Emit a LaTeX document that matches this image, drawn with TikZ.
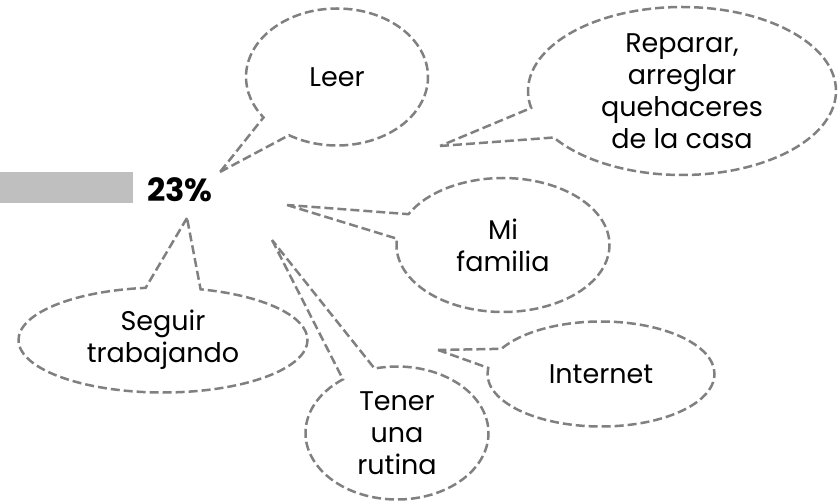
\documentclass[tikz,border=0pt]{standalone}
\usepackage{fontspec}
\setmainfont{Poppins}
\usetikzlibrary{shapes.callouts}
\definecolor{bubblegray}{RGB}{128,128,128}
\definecolor{bargray}{RGB}{191,191,191}

\begin{document}
\begin{tikzpicture}[x=1pt, y=-1pt, font=\fontsize{27}{32}\selectfont,
    bubble/.style={ellipse callout, draw=bubblegray, line width=2.5pt, dash pattern=on 9pt off 4pt,
        align=center, inner sep=0pt, outer sep=0pt, callout pointer arc=22}]
            \useasboundingbox (0,0) rectangle (838,502);

            % Bar and value
            \fill[bargray] (0,172) rectangle (133,203);
            \node[font=\fontsize{32}{36}\selectfont\bfseries] (pct) at (180,190) {23\%};

            % Tips
            \coordinate (tLeer) at (220,172);
            \coordinate (tCasa) at (440,146);
            \coordinate (tFamilia) at (287,205);
            \coordinate (tSeguir) at (187,218);
            \coordinate (tRutina) at (272,240);
            \coordinate (tInternet) at (438,350);

            % Bubbles
            \node[bubble, minimum width=182, minimum height=137, callout absolute pointer={(tLeer)}] (leer) at (337,77) {Leer};
            \node[bubble, minimum width=308, minimum height=168, callout absolute pointer={(tCasa)}] (casa) at (682,91) {Reparar,\\arreglar\\quehaceres\\de la casa};
            \node[bubble, minimum width=213, minimum height=134, callout absolute pointer={(tFamilia)}] (familia) at (503,245) {Mi\\familia};
            \node[bubble, minimum width=289, minimum height=105, callout absolute pointer={(tSeguir)}] (seguir) at (163,340) {Seguir\\trabajando};
            \node[bubble, minimum width=183, minimum height=133, callout absolute pointer={(tRutina)}] (rutina) at (397,433) {Tener\\una\\rutina};
            \node[bubble, minimum width=227, minimum height=105, callout absolute pointer={(tInternet)}] (internet) at (601,374) {Internet};
        \end{tikzpicture}
\end{document}
